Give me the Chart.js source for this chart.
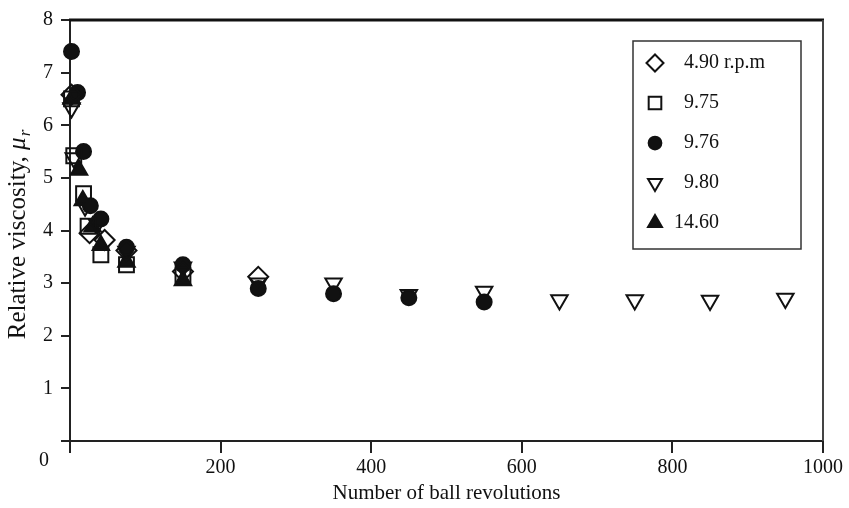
<!DOCTYPE html>
<html>
<head>
<meta charset="utf-8">
<script src="https://cdn.jsdelivr.net/npm/chart.js@4.4.0/dist/chart.umd.min.js"></script>
<style>
  html, body { margin: 0; padding: 0; background: #fff; }
  #wrap { width: 849px; height: 508px; }
</style>
</head>
<body>
<div id="wrap"><canvas id="c" width="849" height="508"></canvas></div>
<script>
// Relative viscosity against number of ball revolutions, one series per rotation speed
const seriesLabels = ['4.90 r.p.m', '9.75', '9.76', '9.80', '14.60'];

const rev490 = [2, 26, 46, 75, 150, 250];
const mu490  = [6.58, 3.95, 3.82, 3.62, 3.22, 3.12];

const rev975 = [2, 5, 18, 24, 41, 75, 150];
const mu975  = [6.5, 5.42, 4.7, 4.08, 3.54, 3.35, 3.15];

const rev976 = [2, 10, 18, 27, 41, 75, 150, 250, 350, 450, 550];
const mu976  = [7.4, 6.62, 5.5, 4.47, 4.22, 3.68, 3.35, 2.9, 2.8, 2.72, 2.64];

const rev980 = [2, 5, 20, 36, 75, 150, 250, 350, 450, 550, 650, 750, 850, 950];
const mu980  = [6.33, 5.38, 4.46, 4.12, 3.6, 3.3, 3.0, 3.0, 2.78, 2.84, 2.68, 2.68, 2.67, 2.71];

const rev1460 = [2, 12, 17, 30, 41, 75, 150];
const mu1460  = [6.5, 5.15, 4.57, 4.07, 3.72, 3.4, 3.05];

const xTickValues = [0, 200, 400, 600, 800, 1000];
const yTickValues = [0, 1, 2, 3, 4, 5, 6, 7, 8];

const SERIF = "'Liberation Serif', 'Times New Roman', serif";
const INK = '#111';

function pairs(xs, ys) { return xs.map((x, i) => ({ x: x, y: ys[i] })); }

const markerStyles = [
  { pointStyle: 'rectRot',  radius: 10,   rotation: 0,   fill: 'rgba(0,0,0,0)' },
  { pointStyle: 'rect',     radius: 10.5, rotation: 0,   fill: 'rgba(0,0,0,0)' },
  { pointStyle: 'circle',   radius: 7.5,  rotation: 0,   fill: INK },
  { pointStyle: 'triangle', radius: 9.5,  rotation: 180, fill: 'rgba(0,0,0,0)' },
  { pointStyle: 'triangle', radius: 9.5,  rotation: 0,   fill: INK }
];

const seriesData = [
  pairs(rev490, mu490),
  pairs(rev975, mu975),
  pairs(rev976, mu976),
  pairs(rev980, mu980),
  pairs(rev1460, mu1460)
];

const datasets = seriesLabels.map((label, i) => ({
  label: label,
  data: seriesData[i],
  showLine: false,
  clip: false,
  pointStyle: markerStyles[i].pointStyle,
  pointRadius: markerStyles[i].radius,
  pointRotation: markerStyles[i].rotation,
  pointBackgroundColor: markerStyles[i].fill,
  pointBorderColor: INK,
  pointBorderWidth: 2,
  pointHoverRadius: markerStyles[i].radius
}));

// Top and right edges of the plot frame
const framePlugin = {
  id: 'frame',
  afterDraw(chart) {
    const { ctx, chartArea: a } = chart;
    ctx.save();
    ctx.strokeStyle = INK;
    ctx.lineWidth = 3;
    ctx.beginPath();
    ctx.moveTo(a.left - 1, a.top);
    ctx.lineTo(a.right + 1, a.top);
    ctx.stroke();
    ctx.strokeStyle = '#444';
    ctx.lineWidth = 2;
    ctx.beginPath();
    ctx.moveTo(a.right, a.top);
    ctx.lineTo(a.right, a.bottom);
    ctx.stroke();
    ctx.restore();
  }
};

// Shared origin label, y-axis title with subscript, and boxed legend
const annotatePlugin = {
  id: 'annotate',
  afterDraw(chart) {
    const { ctx, chartArea: a, scales } = chart;
    ctx.save();
    ctx.fillStyle = INK;

    // single "0" at the corner
    ctx.font = '20px ' + SERIF;
    ctx.textAlign = 'center';
    ctx.textBaseline = 'middle';
    ctx.fillText('0', scales.x.getPixelForValue(0) - 26, scales.y.getPixelForValue(0) + 20);

    // y-axis title: "Relative viscosity, μ_r"
    const main = 'Relative viscosity, ';
    ctx.save();
    ctx.translate(25, (a.top + a.bottom) / 2 + 4);
    ctx.rotate(-Math.PI / 2);
    ctx.textBaseline = 'alphabetic';
    ctx.textAlign = 'left';
    ctx.font = '25px ' + SERIF;
    const wMain = ctx.measureText(main).width;
    ctx.font = 'italic 25px ' + SERIF;
    const wMu = ctx.measureText('μ').width;
    ctx.font = 'italic 17px ' + SERIF;
    const wR = ctx.measureText('r').width;
    let x0 = -(wMain + wMu + wR + 1) / 2;
    ctx.font = '25px ' + SERIF;
    ctx.fillText(main, x0, 0);
    x0 += wMain;
    ctx.font = 'italic 25px ' + SERIF;
    ctx.fillText('μ', x0, 0);
    x0 += wMu + 1;
    ctx.font = 'italic 17px ' + SERIF;
    ctx.fillText('r', x0, 5);
    ctx.restore();

    // legend box
    const bx0 = a.right - 190, bx1 = a.right - 22;
    const by0 = a.top + 21, by1 = a.top + 229;
    ctx.fillStyle = '#fff';
    ctx.fillRect(bx0, by0, bx1 - bx0, by1 - by0);
    ctx.strokeStyle = '#333';
    ctx.lineWidth = 1.5;
    ctx.strokeRect(bx0, by0, bx1 - bx0, by1 - by0);

    ctx.font = '20px ' + SERIF;
    ctx.textBaseline = 'middle';
    chart.data.datasets.forEach((ds, i) => {
      const cy = by0 + 22 + 40 * i;
      const sx = bx0 + 22;
      ctx.fillStyle = ds.pointBackgroundColor;
      ctx.strokeStyle = ds.pointBorderColor;
      ctx.lineWidth = ds.pointBorderWidth;
      Chart.helpers.drawPoint(ctx, {
        pointStyle: ds.pointStyle,
        radius: ds.pointRadius * 0.85,
        rotation: ds.pointRotation,
        borderWidth: ds.pointBorderWidth
      }, sx, cy);
      const parts = ds.label.split(' ');
      const num = parts[0];
      const rest = parts.slice(1).join(' ');
      ctx.fillStyle = INK;
      ctx.textAlign = 'right';
      const numRight = bx0 + 86;
      ctx.fillText(num, numRight, cy);
      if (rest) {
        ctx.textAlign = 'left';
        ctx.fillText(' ' + rest, numRight, cy);
      }
    });
    ctx.restore();
  }
};

new Chart(document.getElementById('c'), {
  type: 'scatter',
  data: { datasets: datasets },
  options: {
    responsive: false,
    animation: false,
    devicePixelRatio: 1,
    layout: { padding: { top: 10, right: 26, left: 0, bottom: 0 } },
    plugins: {
      legend: { display: false },
      tooltip: { enabled: false }
    },
    scales: {
      x: {
        type: 'linear',
        min: 0,
        max: 1000,
        afterBuildTicks(scale) { scale.ticks = xTickValues.map(v => ({ value: v })); },
        afterFit(scale) { scale.height = 67; },
        ticks: {
          callback: v => (v === 0 ? '' : String(v)),
          color: INK,
          font: { family: SERIF, size: 20 },
          padding: 3,
          maxRotation: 0,
          autoSkip: false
        },
        grid: { drawOnChartArea: false, drawTicks: true, tickLength: 12, color: '#222', lineWidth: 2 },
        border: { display: true, color: '#222', width: 2 },
        title: {
          display: true,
          text: 'Number of ball revolutions',
          color: INK,
          font: { family: SERIF, size: 21 },
          padding: { top: 0, bottom: 2 }
        }
      },
      y: {
        type: 'linear',
        min: 0,
        max: 8,
        afterBuildTicks(scale) { scale.ticks = yTickValues.map(v => ({ value: v })); },
        afterFit(scale) { scale.width = 70; },
        ticks: {
          callback: v => (v === 0 ? '' : String(v)),
          color: INK,
          font: { family: SERIF, size: 20 },
          padding: 8,
          autoSkip: false
        },
        grid: {
          drawOnChartArea: false,
          drawTicks: true,
          tickLength: 9,
          color: '#222',
          lineWidth: 2
        },
        border: { display: true, color: '#222', width: 2 }
      }
    }
  },
  plugins: [framePlugin, annotatePlugin]
});
</script>
</body>
</html>
